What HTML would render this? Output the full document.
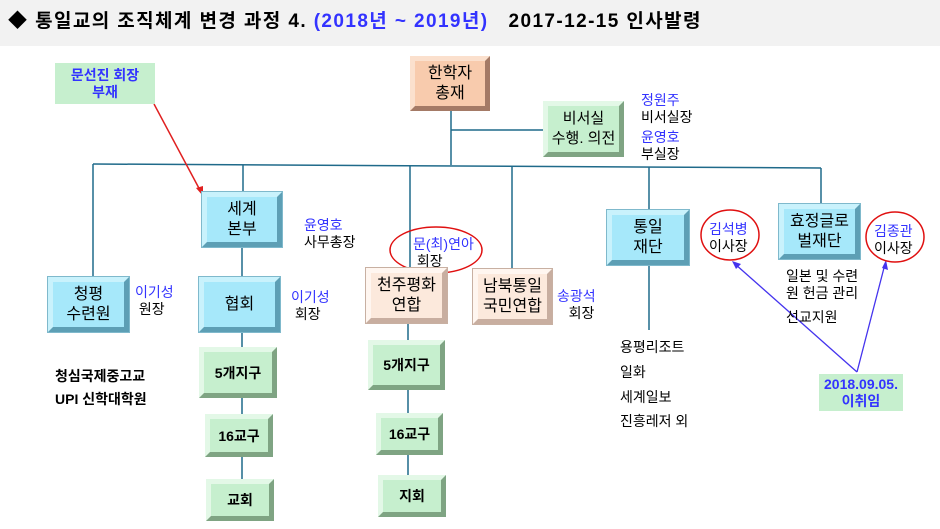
<!DOCTYPE html>
<html><head><meta charset="utf-8"><style>
body{margin:0;width:940px;height:529px;position:relative;background:#fff;font-family:"Liberation Sans","Noto Sans CJK KR",sans-serif;overflow:hidden}
.hd{position:absolute;left:0;top:0;width:940px;height:46px;background:#f2f2f2}
.t{position:absolute;white-space:nowrap;font-size:14px;line-height:17px;color:#000}
.b{color:#3333ff}
.bx{position:absolute;box-sizing:border-box;display:flex;align-items:center;justify-content:center;text-align:center;font-size:16px;line-height:20px;border-style:solid;border-width:5px}
.blue{background:#a6e8fa;border-color:#c9f2fc #5d9fb5 #5d9fb5 #c9f2fc;box-shadow:0 0 0 1px #7fb9cc}
.pe{background:#f8cbad;border-color:#fbe0cd #a47a66 #a47a66 #fbe0cd}
.pl{background:#fce9dc;border-color:#fff6f0 #c8aea0 #c8aea0 #fff6f0;box-shadow:0 0 0 1px #c8b0a2}
.gr{background:#c6efce;border-color:#e3f8e7 #7fa483 #7fa483 #e3f8e7;font-weight:bold;font-size:14px}
.gs{background:#c6efce;border:none;font-weight:bold;color:#3333ff;font-size:14px;line-height:17px}
svg{position:absolute;left:0;top:0}
</style></head><body>
<div class="hd"></div>
<div class="t" style="left:8px;top:10px;font-size:19px;line-height:23px;font-weight:bold;letter-spacing:1.4px">◆ 통일교의 조직체계 변경 과정 4. <span class="b">(2018년 ~ 2019년)</span>&nbsp;&nbsp; 2017-12-15 인사발령</div>
<svg width="940" height="529">
<g stroke="#1f6a8a" stroke-width="1.5" fill="none">
<line x1="451" y1="111" x2="451" y2="165"/><line x1="451" y1="130" x2="543" y2="130"/>
<line x1="93" y1="164" x2="821" y2="168"/>
<line x1="93" y1="164" x2="93" y2="277"/><line x1="243" y1="165" x2="243" y2="192"/>
<line x1="410" y1="166" x2="410" y2="268"/><line x1="512" y1="166" x2="512" y2="269"/>
<line x1="649" y1="167" x2="649" y2="210"/><line x1="821" y1="168" x2="821" y2="204"/>
<line x1="242" y1="247" x2="242" y2="277"/><line x1="242" y1="332" x2="242" y2="479"/>
<line x1="408" y1="323" x2="408" y2="475"/><line x1="649" y1="265" x2="649" y2="330"/>
</g>
<line x1="154" y1="104" x2="201" y2="192" stroke="#e02020" stroke-width="1.5"/>
<polygon points="203,196 196,188 203,186" fill="#e02020"/>
<g stroke="#4433ee" stroke-width="1.3"><line x1="857" y1="372" x2="735" y2="264"/><line x1="857" y1="372" x2="885" y2="264"/></g>
<polygon points="732,261 741,264 736,269" fill="#4433ee"/>
<polygon points="886,260 888,270 882,268" fill="#4433ee"/>
<g stroke="#e01010" stroke-width="1.5" fill="none">
<ellipse cx="436" cy="250" rx="46" ry="23"/><ellipse cx="730" cy="235" rx="29" ry="25"/><ellipse cx="895" cy="237" rx="29" ry="25"/>
</g>
</svg>
<div class="bx pe" style="left:410px;top:56px;width:80px;height:55px">한학자<br>총재</div>
<div class="bx gr" style="left:543px;top:101px;width:81px;height:56px;font-weight:normal;font-size:15px">비서실<br>수행. 의전</div>
<div class="bx gs" style="left:55px;top:63px;width:100px;height:41px">문선진 회장<br>부재</div>
<div class="bx blue" style="left:202px;top:192px;width:80px;height:55px">세계<br>본부</div>
<div class="bx blue" style="left:48px;top:277px;width:81px;height:55px">청평<br>수련원</div>
<div class="bx blue" style="left:199px;top:277px;width:81px;height:55px">협회</div>
<div class="bx pl" style="left:366px;top:268px;width:81px;height:55px">천주평화<br>연합</div>
<div class="bx pl" style="left:473px;top:269px;width:79px;height:55px">남북통일<br>국민연합</div>
<div class="bx blue" style="left:607px;top:210px;width:82px;height:55px">통일<br>재단</div>
<div class="bx blue" style="left:779px;top:204px;width:81px;height:55px">효정글로<br>벌재단</div>
<div class="bx gr" style="left:199px;top:347px;width:78px;height:51px">5개지구</div>
<div class="bx gr" style="left:205px;top:414px;width:68px;height:43px">16교구</div>
<div class="bx gr" style="left:206px;top:479px;width:68px;height:42px">교회</div>
<div class="bx gr" style="left:368px;top:340px;width:77px;height:50px">5개지구</div>
<div class="bx gr" style="left:376px;top:413px;width:67px;height:42px">16교구</div>
<div class="bx gr" style="left:378px;top:475px;width:68px;height:42px">지회</div>
<div class="bx gs" style="left:819px;top:374px;width:84px;height:37px">2018.09.05.<br>이취임</div>
<div class="t" style="left:641px;top:92px"><span class="b">정원주</span><br>비서실장</div>
<div class="t" style="left:641px;top:129px"><span class="b">윤영호</span><br>부실장</div>
<div class="t" style="left:304px;top:217px"><span class="b">윤영호</span><br>사무총장</div>
<div class="t" style="left:135px;top:284px"><span class="b">이기성</span><br>&nbsp;원장</div>
<div class="t" style="left:291px;top:289px"><span class="b">이기성</span><br>&nbsp;회장</div>
<div class="t" style="left:413px;top:236px"><span class="b">문(최)연아</span><br>&nbsp;회장</div>
<div class="t" style="left:557px;top:288px"><span class="b">송광석</span><br>&nbsp;&nbsp;&nbsp;회장</div>
<div class="t" style="left:709px;top:221px"><span class="b">김석병</span><br>이사장</div>
<div class="t" style="left:874px;top:223px"><span class="b">김종관</span><br>이사장</div>
<div class="t" style="left:786px;top:268px;line-height:17px">일본 및 수련<br>원 헌금 관리</div>
<div class="t" style="left:786px;top:309px">선교지원</div>
<div class="t" style="left:55px;top:368px;font-weight:bold">청심국제중고교</div>
<div class="t" style="left:55px;top:391px;font-weight:bold">UPI 신학대학원</div>
<div class="t" style="left:620px;top:339px">용평리조트</div>
<div class="t" style="left:620px;top:364px">일화</div>
<div class="t" style="left:620px;top:389px">세계일보</div>
<div class="t" style="left:620px;top:413px">진흥레저 외</div>
</body></html>
